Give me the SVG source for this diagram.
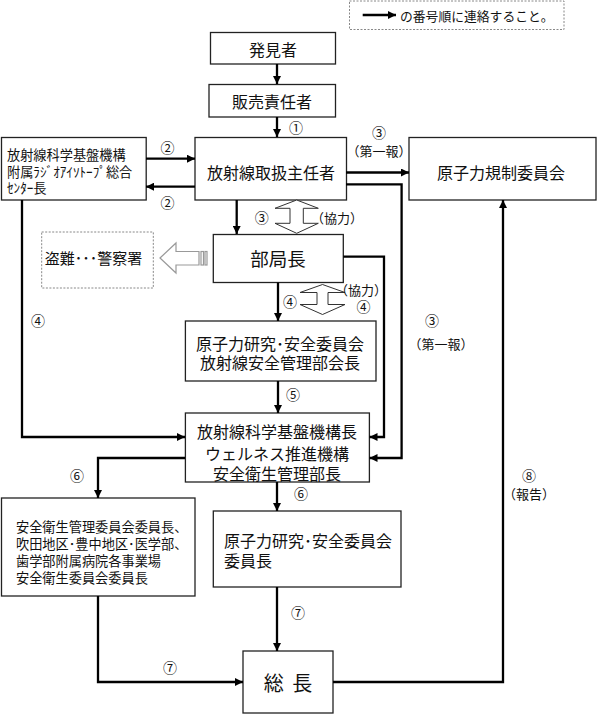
<svg xmlns="http://www.w3.org/2000/svg" width="597" height="714" viewBox="0 0 597 714">
<defs>
<style>
text{font-family:"Noto Sans CJK JP","Noto Sans CJK SC",sans-serif;fill:#111;dominant-baseline:central}
.box{fill:#fff;stroke:#222;stroke-width:1.3}
.dash{fill:#fff;stroke:#888;stroke-width:1;stroke-dasharray:2 1.5}
.c{stroke:#000;stroke-width:2.3;fill:none;marker-end:url(#ah)}
.m{text-anchor:middle}
.f16{font-size:16px}
.f13{font-size:13.2px}
.num{font-size:14px;text-anchor:middle}
.lab{font-size:13px;text-anchor:middle}
.dbl{fill:#fff;stroke:#333;stroke-width:1}
.hol{fill:#fff;stroke:#999;stroke-width:1.2}
</style>
<marker id="ah" viewBox="0 0 10 10" refX="10" refY="5" markerWidth="9" markerHeight="8" orient="auto" markerUnits="userSpaceOnUse"><path d="M0,0L10,5L0,10z" fill="#000"/></marker>
</defs>
<rect width="597" height="714" fill="#fff"/>

<g id="legend">
<rect class="dash" x="349.5" y="1" width="214.5" height="28.5"/>
<line x1="362.7" y1="15" x2="396" y2="15" stroke="#000" stroke-width="2.3" marker-end="url(#ah)"/>
<text x="400" y="15.5" style="font-size:12.8px">の番号順に連絡すること。</text>
</g>

<g id="n-hakken">
<rect class="box" x="210.5" y="32.5" width="125" height="31.5"/>
<text class="m f16" x="273" y="48.5">発見者</text>
</g>
<g id="n-hanbai">
<rect class="box" x="209" y="84.5" width="126.5" height="32.5"/>
<text class="m f16" x="272" y="101">販売責任者</text>
</g>
<g id="n-shunin">
<rect class="box" x="195" y="137.5" width="151.5" height="62.5"/>
<text class="m f16" x="271" y="172">放射線取扱主任者</text>
</g>
<g id="n-center">
<rect class="box" x="1.5" y="137.5" width="144.7" height="62.5"/>
<text class="f13" x="7" y="154">放射線科学基盤機構</text>
<text class="f13" x="7" y="171">附属ﾗｼﾞｵｱｲｿﾄｰﾌﾟ総合</text>
<text class="f13" x="7" y="187.5">ｾﾝﾀｰ長</text>
</g>
<g id="n-kisei">
<rect class="box" x="409" y="137.5" width="187" height="62.5"/>
<text class="m f16" x="501" y="172">原子力規制委員会</text>
</g>
<g id="n-police">
<rect class="dash" x="41.7" y="232" width="111.6" height="56"/>
<text class="m" x="93.5" y="257" style="font-size:15px">盗難･･･警察署</text>
</g>
<g id="hollow-arrow">
<polygon class="hol" points="160,258 176,243 176,251.5 199,251.5 199,265 176,265 176,273"/>
<rect class="hol" x="201" y="251.5" width="2.5" height="13.5"/>
<rect class="hol" x="205" y="251.5" width="2" height="13.5"/>
</g>
<g id="n-bukyoku">
<rect class="box" x="213.3" y="234.5" width="130" height="48"/>
<text class="m" x="278" y="257.5" style="font-size:18.5px">部局長</text>
</g>
<g id="n-bukai">
<rect class="box" x="185.4" y="321" width="190.6" height="60"/>
<text class="m f16" x="280" y="342.5">原子力研究･安全委員会</text>
<text class="m f16" x="280" y="362">放射線安全管理部会長</text>
</g>
<g id="n-kikoucho">
<rect class="box" x="185.4" y="413" width="184" height="69"/>
<text class="m f16" x="277" y="431">放射線科学基盤機構長</text>
<text class="m f16" x="277" y="452.5">ウェルネス推進機構</text>
<text class="m f16" x="277" y="473">安全衛生管理部長</text>
</g>
<g id="n-eisei">
<rect class="box" x="1.5" y="498" width="193.5" height="98"/>
<text class="f13" x="16" y="526">安全衛生管理委員会委員長、</text>
<text class="f13" x="16" y="543">吹田地区･豊中地区･医学部、</text>
<text class="f13" x="16" y="560">歯学部附属病院各事業場</text>
<text class="f13" x="16" y="577">安全衛生委員会委員長</text>
</g>
<g id="n-iincho">
<rect class="box" x="213.3" y="511" width="187.7" height="76"/>
<text class="f16" x="224" y="540">原子力研究･安全委員会</text>
<text class="f16" x="224" y="559.5">委員長</text>
</g>
<g id="n-socho">
<rect class="box" x="243" y="651" width="90" height="62"/>
<text class="m" x="288" y="682" style="font-size:20px;word-spacing:4px" xml:space="preserve">総 長</text>
</g>

<g id="coop">
<polygon class="dbl" points="296.7,200 318.3,208.3 303.3,208.3 303.3,223.3 318.3,223.3 296.7,233.3 275,223.3 290,223.3 290,208.3 275,208.3"/>
<polygon class="dbl" points="322.5,284.5 345,292.5 328,292.5 328,304.5 345,304.5 322.5,314.5 300,304.5 317,304.5 317,292.5 300,292.5"/>
</g>

<g id="connectors">
<path class="c" d="M277,64V84"/>
<path class="c" d="M277,117V137"/>
<path class="c" d="M146,158.7H195"/>
<path class="c" d="M195,186.7H146"/>
<path class="c" d="M346,172.5H409"/>
<path class="c" d="M346,184.3H401.6V458H369.5"/>
<path class="c" d="M236.7,200V234"/>
<path class="c" d="M343.3,256.7H384V437H369.5"/>
<path class="c" d="M278,282.5V321"/>
<path class="c" d="M278,381V413"/>
<path class="c" d="M22,200V437H185"/>
<path class="c" d="M185,458H98V498"/>
<path class="c" d="M277,482V511"/>
<path class="c" d="M277,587V651"/>
<path class="c" d="M98,596V682H243"/>
<path class="c" d="M333,682H503V200"/>
</g>

<g id="labels">
<text class="num" x="296" y="127">①</text>
<text class="num" x="167.5" y="146.5">②</text>
<text class="num" x="167.5" y="201.5">②</text>
<text class="num" x="379" y="131.5">③</text>
<text class="lab" x="379" y="150.5">（第一報）</text>
<text class="num" x="261.7" y="217">③</text>
<text class="lab" x="337" y="217">（協力）</text>
<text class="num" x="290" y="300.5">④</text>
<text class="lab" x="361" y="289">（協力）</text>
<text class="num" x="363.5" y="305.5">④</text>
<text class="num" x="38" y="320">④</text>
<text class="num" x="432" y="320">③</text>
<text class="lab" x="441" y="343">（第一報）</text>
<text class="num" x="293" y="394">⑤</text>
<text class="num" x="77" y="475">⑥</text>
<text class="num" x="301" y="493">⑥</text>
<text class="num" x="529" y="475">⑧</text>
<text class="lab" x="529" y="493">（報告）</text>
<text class="num" x="298" y="612">⑦</text>
<text class="num" x="170" y="667">⑦</text>
</g>
</svg>
